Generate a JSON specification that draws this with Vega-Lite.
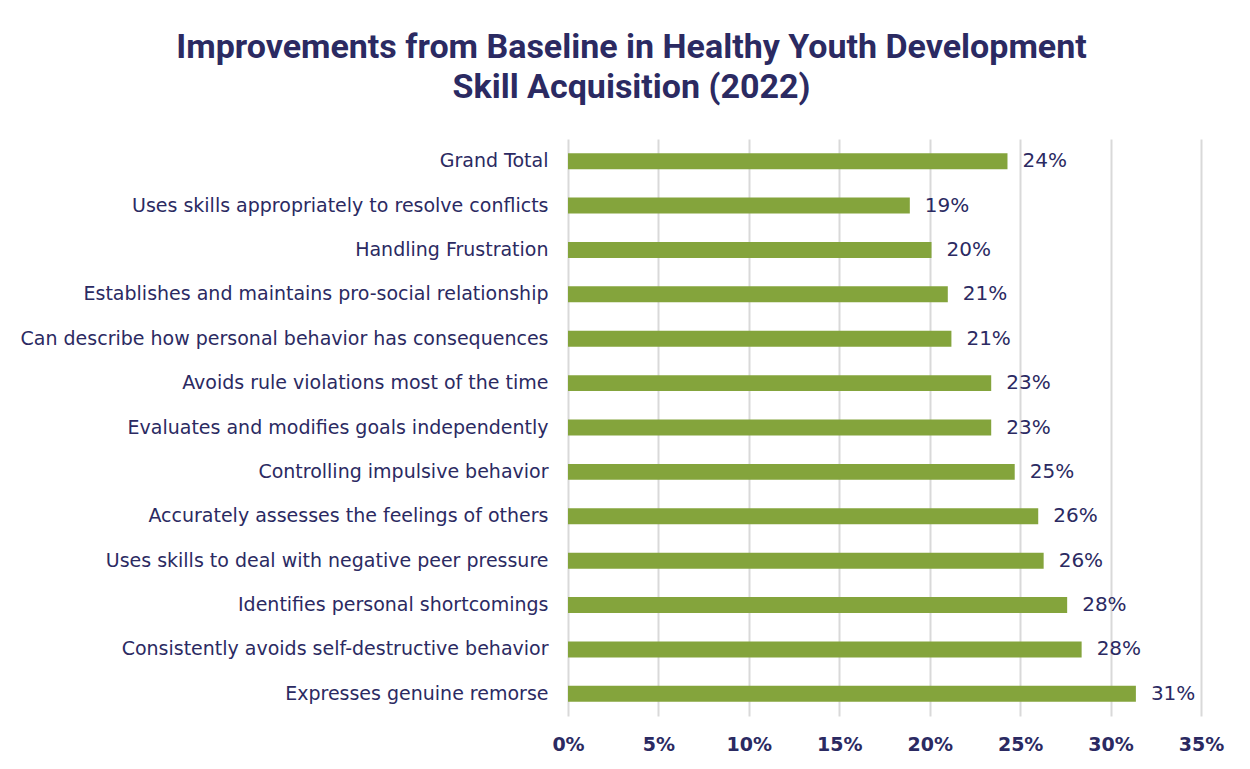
{
  "$schema": "https://vega.github.io/schema/vega-lite/v6.json",
  "autosize": {"type": "none"},
  "width": 633,
  "height": 577,
  "padding": {"left": 568, "top": 139, "right": 49, "bottom": 53},
  "background": "white",
  "title": {
    "text": ["Improvements from Baseline in Healthy Youth Development", "Skill Acquisition (2022)"],
    "font": "Roboto",
    "fontSize": 34,
    "fontWeight": "bold",
    "color": "#2B2A62",
    "anchor": "middle",
    "frame": "group",
    "dx": -253,
    "lineHeight": 40,
    "offset": 34
  },
  "data": {
    "values": [
      {"skill": "Grand Total", "value": 0.243},
      {"skill": "Uses skills appropriately to resolve conflicts", "value": 0.189},
      {"skill": "Handling Frustration", "value": 0.201},
      {"skill": "Establishes and maintains pro-social relationship", "value": 0.210},
      {"skill": "Can describe how personal behavior has consequences", "value": 0.212},
      {"skill": "Avoids rule violations most of the time", "value": 0.234},
      {"skill": "Evaluates and modifies goals independently", "value": 0.234},
      {"skill": "Controlling impulsive behavior", "value": 0.247},
      {"skill": "Accurately assesses the feelings of others", "value": 0.260},
      {"skill": "Uses skills to deal with negative peer pressure", "value": 0.263},
      {"skill": "Identifies personal shortcomings", "value": 0.276},
      {"skill": "Consistently avoids self-destructive behavior", "value": 0.284},
      {"skill": "Expresses genuine remorse", "value": 0.314}
    ]
  },
  "encoding": {
    "y": {
      "field": "skill",
      "type": "nominal",
      "sort": null,
      "scale": {"paddingInner": 0.64, "paddingOuter": 0.32},
      "axis": {
        "title": null,
        "domain": false,
        "ticks": false,
        "labelFont": "DejaVu Sans",
        "labelFontSize": 19,
        "labelColor": "#2B2A62",
        "labelPadding": 20,
        "labelLimit": 600
      }
    },
    "x": {
      "field": "value",
      "type": "quantitative",
      "scale": {"domain": [0, 0.35]},
      "axis": {
        "title": null,
        "format": ".0%",
        "values": [0, 0.05, 0.1, 0.15, 0.2, 0.25, 0.3, 0.35],
        "domain": false,
        "ticks": false,
        "grid": true,
        "gridColor": "#D9D9D9",
        "gridWidth": 2,
        "labelFlush": false,
        "labelFont": "DejaVu Sans",
        "labelFontSize": 19,
        "labelFontWeight": "bold",
        "labelColor": "#2B2A62",
        "labelPadding": 19
      }
    }
  },
  "layer": [
    {"mark": {"type": "bar", "color": "#84A43C"}},
    {
      "mark": {"type": "text", "align": "left", "dx": 15, "font": "DejaVu Sans", "fontSize": 20, "color": "#2B2A62"},
      "encoding": {"text": {"field": "value", "type": "quantitative", "format": ".0%"}}
    }
  ],
  "config": {"view": {"stroke": null}}
}
